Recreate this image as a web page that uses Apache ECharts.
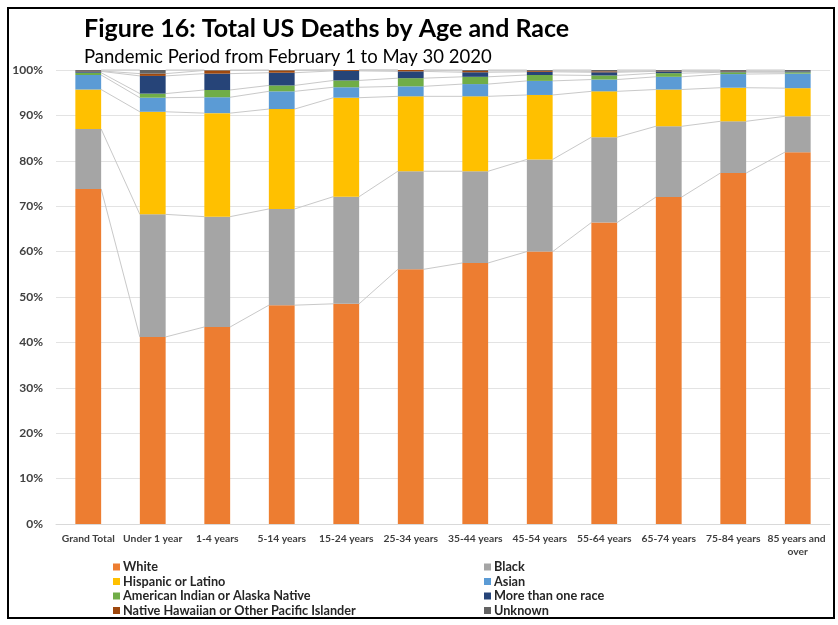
<!DOCTYPE html>
<html><head><meta charset="utf-8">
<script src="https://cdn.jsdelivr.net/npm/echarts@6/dist/echarts.min.js"></script>
<style>html,body{margin:0;padding:0;background:#fff}#c{width:838px;height:625px}</style>
</head><body><div id="c"></div>
<script>
const categories = ['Grand Total','Under 1 year','1-4 years','5-14 years','15-24 years','25-34 years','35-44 years','45-54 years','55-64 years','65-74 years','75-84 years','85 years and over'];
const white    = [73.8, 41.2, 43.4, 48.2, 48.5, 56.1, 57.5, 60.0, 66.4, 72.0, 77.3, 81.9];
const black    = [13.2, 27.0, 24.3, 21.2, 23.6, 21.6, 20.2, 20.3, 18.8, 15.6, 11.4, 7.9];
const hispanic = [8.7, 22.6, 22.8, 22.0, 21.8, 16.5, 16.5, 14.2, 10.1, 8.1, 7.4, 6.2];
const asian    = [3.2, 3.1, 3.5, 3.9, 2.3, 2.2, 2.7, 3.1, 2.6, 2.8, 3.0, 3.2];
const aian     = [0.5, 0.9, 1.6, 1.3, 1.5, 1.8, 1.6, 1.3, 0.9, 0.8, 0.4, 0.3];
const multi    = [0.3, 3.9, 3.6, 2.8, 2.1, 1.5, 1.0, 0.7, 0.7, 0.4, 0.2, 0.2];
const nhpi     = [0.1, 0.5, 0.7, 0.5, 0.2, 0.3, 0.3, 0.2, 0.2, 0.1, 0.1, 0.0];
const unknown  = [0.2, 0.8, 0.1, 0.1, 0.0, 0.0, 0.2, 0.2, 0.3, 0.2, 0.2, 0.3];
const yTicks = [0, 10, 20, 30, 40, 50, 60, 70, 80, 90, 100];

const seriesNames = ['White','Black','Hispanic or Latino','Asian','American Indian or Alaska Native','More than one race','Native Hawaiian or Other Pacific Islander','Unknown'];
const seriesData = [white, black, hispanic, asian, aian, multi, nhpi, unknown];
const colors = ['#ED7D31','#A5A5A5','#FFC000','#5B9BD5','#70AD47','#264478','#9E480E','#636363'];
const BAR_RATIO = 0.4;

// cumulative tops for series lines
const cum = [];
let run = categories.map(() => 0);
seriesData.forEach(arr => {
  run = run.map((v, i) => v + arr[i]);
  cum.push(run.slice());
});
const lineData = [];
cum.forEach(c => {
  for (let i = 0; i < categories.length - 1; i++) lineData.push([i, c[i], c[i + 1]]);
});

const chart = echarts.init(document.getElementById('c'), null, {renderer: 'canvas'});
const font = 'Lato, "Open Sans", sans-serif';

const series = seriesNames.map((n, k) => ({
  name: n, type: 'bar', stack: 'all', data: seriesData[k],
  barWidth: '40%', itemStyle: {color: colors[k]}, z: 3
}));
series.push({
  type: 'custom', name: 'serieslines', z: 1, silent: true,
  data: lineData, encode: {x: 0, y: 1},
  renderItem: function (params, api) {
    const i = api.value(0);
    const p1 = api.coord([i, api.value(1)]);
    const p2 = api.coord([i + 1, api.value(2)]);
    const hw = api.size([1, 0])[0] * BAR_RATIO / 2;
    return {type: 'line', shape: {x1: p1[0] + hw, y1: p1[1], x2: p2[0] - hw, y2: p2[1]},
      style: {stroke: '#c9c9c9', lineWidth: 1}};
  }
});

chart.setOption({
  animation: false,
  backgroundColor: '#fff',
  textStyle: {fontFamily: font},
  title: [
    {text: 'Figure 16: Total US Deaths by Age and Race', left: 79, top: 11,
     textStyle: {fontFamily: font, fontSize: 25, fontWeight: 'bold', color: '#000'}},
    {text: 'Pandemic Period from February 1 to May 30 2020', left: 79, top: 43,
     textStyle: {fontFamily: font, fontSize: 18.5, fontWeight: 'normal', color: '#000'}}
  ],
  graphic: [{type: 'rect', shape: {x: 8, y: 8, width: 826, height: 610},
    style: {fill: 'none', stroke: '#000', lineWidth: 2}, silent: true, z: 100}],
  grid: {left: 56, right: 8, top: 70, bottom: 101, containLabel: false},
  legend: [
    {data: [seriesNames[0], seriesNames[2], seriesNames[4], seriesNames[6]], orient: 'vertical',
     left: 108, top: 555, itemWidth: 7, itemHeight: 7, itemGap: 0.5, icon: 'rect',
     textStyle: {fontFamily: font, fontSize: 12.7, fontWeight: 'bold', color: '#262626', lineHeight: 14, padding: [0, 0, 0, -2]}},
    {data: [seriesNames[1], seriesNames[3], seriesNames[5], seriesNames[7]], orient: 'vertical',
     left: 479, top: 555, itemWidth: 7, itemHeight: 7, itemGap: 0.5, icon: 'rect',
     textStyle: {fontFamily: font, fontSize: 12.7, fontWeight: 'bold', color: '#262626', lineHeight: 14, padding: [0, 0, 0, -2]}}
  ],
  xAxis: {
    type: 'category', data: categories,
    axisLine: {lineStyle: {color: '#d9d9d9'}}, axisTick: {show: false},
    axisLabel: {interval: 0, fontFamily: font, fontSize: 10.3, fontWeight: 'bold', color: '#404040', margin: 8,
      width: 64, overflow: 'break', lineHeight: 13}
  },
  yAxis: {
    type: 'value', min: 0, max: 100, interval: 10,
    axisLine: {show: false}, axisTick: {show: false},
    splitLine: {lineStyle: {color: '#e3e3e3'}},
    axisLabel: {fontFamily: font, fontSize: 12, fontWeight: 'bold', color: '#404040', margin: 13,
      formatter: v => yTicks.includes(v) ? v + '%' : ''}
  },
  series: series
});
</script></body></html>
